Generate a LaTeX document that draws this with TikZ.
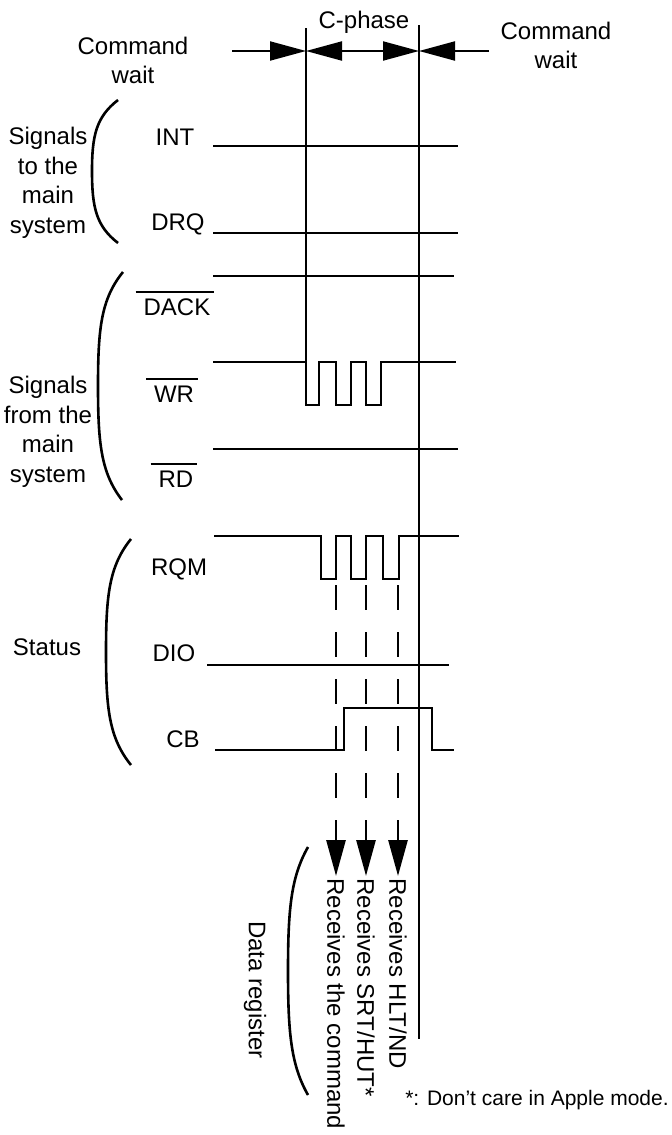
\documentclass[tikz,border=0pt]{standalone}
\usepackage{fontspec}
\setmainfont{Liberation Sans}
\usepackage{tikz}
\usetikzlibrary{arrows.meta, positioning}

\newcommand{\activelow}[1]{\vbox{\hrule height 1pt\kern 2.5pt\hbox{\kern 4pt#1\kern 2pt}}}

\begin{document}
\begin{tikzpicture}[x=0.5pt, y=-0.5pt, font=\fontsize{12}{14.7}\selectfont,
                    >={Triangle[length=18pt, width=9.5pt]},
                    signal/.style={line width=1.1pt},
                    phase/.style={line width=0.7pt},
                    brk/.style={line width=1.3pt},
                    probe/.style={line width=1.4pt, dash pattern=on 12.5pt off 11pt},
                    sig/.style={anchor=base},
                    recv/.style={rotate=-90, anchor=west, inner sep=1pt}]
                        \useasboundingbox (0, 0) rectangle (672, 1135);

                        \node[sig] (cphase) at (364, 28) {C-phase};
                        \node[sig, align=center, font=\fontsize{12}{14}\selectfont] (waitl) at (133, 83) {Command\\wait};
                        \node[sig, align=center, font=\fontsize{12}{14}\selectfont] (waitr) at (556, 68) {Command\\wait};

                        \coordinate (ltail) at (232, 51);
                        \coordinate (rtail) at (489, 51);
                        \coordinate (ph1) at (306, 51);
                        \coordinate (ph2) at (419, 51);

                        \draw[line width=1pt]
                        (ltail) edge[->] (ph1)
                        (ph1) edge[<->] (ph2)
                        (rtail) edge[->] (ph2);

                        \draw[phase] (306, 28) -- (306, 362);
                        \draw[phase] (419, 25) -- (419, 1039);

                        \node[sig, align=center] (sigto) at (48, 233) {Signals\\to the\\main\\system};
                        \node[sig, align=center] (sigfrom) at (48, 482) {Signals\\from the\\main\\system};
                        \node[sig] (status) at (47, 655) {Status};
                        \node[rotate=-90] (datareg) at (255, 990) {Data register};

                        \draw[brk] (118, 100) .. controls (96, 117) and (92, 136) .. (92, 171) .. controls (92, 207) and (96, 226) .. (118, 243);
                        \draw[brk] (123, 272) .. controls (101, 299) and (98, 329) .. (98, 386) .. controls (98, 443) and (101, 473) .. (122, 500);
                        \draw[brk] (131, 539) .. controls (109, 566) and (106, 596) .. (106, 652) .. controls (106, 708) and (109, 738) .. (131, 765);
                        \draw[brk] (308, 847) .. controls (291, 877) and (288, 909) .. (288, 971) .. controls (288, 1033) and (291, 1065) .. (308, 1095);

                        \node[sig] (int) at (175, 145) {INT};
                        \node[sig] (drq) at (178, 230) {DRQ};
                        \node[sig] (dack) at (175, 315) {\activelow{DACK}};
                        \node[sig] (wr) at (172, 402) {\activelow{WR}};
                        \node[sig] (rd) at (174, 487) {\activelow{RD}};
                        \node[sig] (rqm) at (179, 575) {RQM};
                        \node[sig] (dio) at (174, 661) {DIO};
                        \node[sig] (cb) at (183, 747) {CB};

                        \draw[signal] (213, 146) -- (458, 146);
                        \draw[signal] (213, 233) -- (458, 233);
                        \draw[signal] (213, 276) -- (454, 276);
                        \draw[signal] (213, 362) -- (306, 362) -- (306, 405) -- (319, 405) -- (319, 362) -- (336, 362) -- (336, 405) -- (351, 405) -- (351, 362)
                                      -- (366, 362) -- (366, 405) -- (381, 405) -- (381, 362) -- (456, 362);
                        \draw[signal] (213, 449) -- (458, 449);
                        \draw[signal] (214, 536) -- (321, 536) -- (321, 579) -- (336, 579) -- (336, 536) -- (351, 536) -- (351, 579) -- (366, 579)
                                      -- (366, 536) -- (383, 536) -- (383, 579) -- (399, 579) -- (399, 536) -- (459, 536);
                        \draw[signal] (207, 665) -- (449, 665);
                        \draw[signal] (215, 750) -- (344, 750) -- (344, 708) -- (432, 708) -- (432, 750) -- (454, 750);

                        \node[recv] (rcmd) at (336, 876) {Receives the command};
                        \node[recv] (rsrt) at (366, 876) {Receives SRT/HUT*};
                        \node[recv] (rhlt) at (398, 876) {Receives HLT/ND};

                        \coordinate (d1) at (336, 585);
                        \coordinate (d2) at (366, 585);
                        \coordinate (d3) at (398, 585);

                        \draw[probe]
                        (d1) edge[->] (rcmd.west)
                        (d2) edge[->] (rsrt.west)
                        (d3) edge[->] (rhlt.west);

                        \node[sig, font=\fontsize{10.5}{12}\selectfont] (note) at (537, 1105) {*: Don't care in Apple mode.};
                    \end{tikzpicture}
\end{document}
